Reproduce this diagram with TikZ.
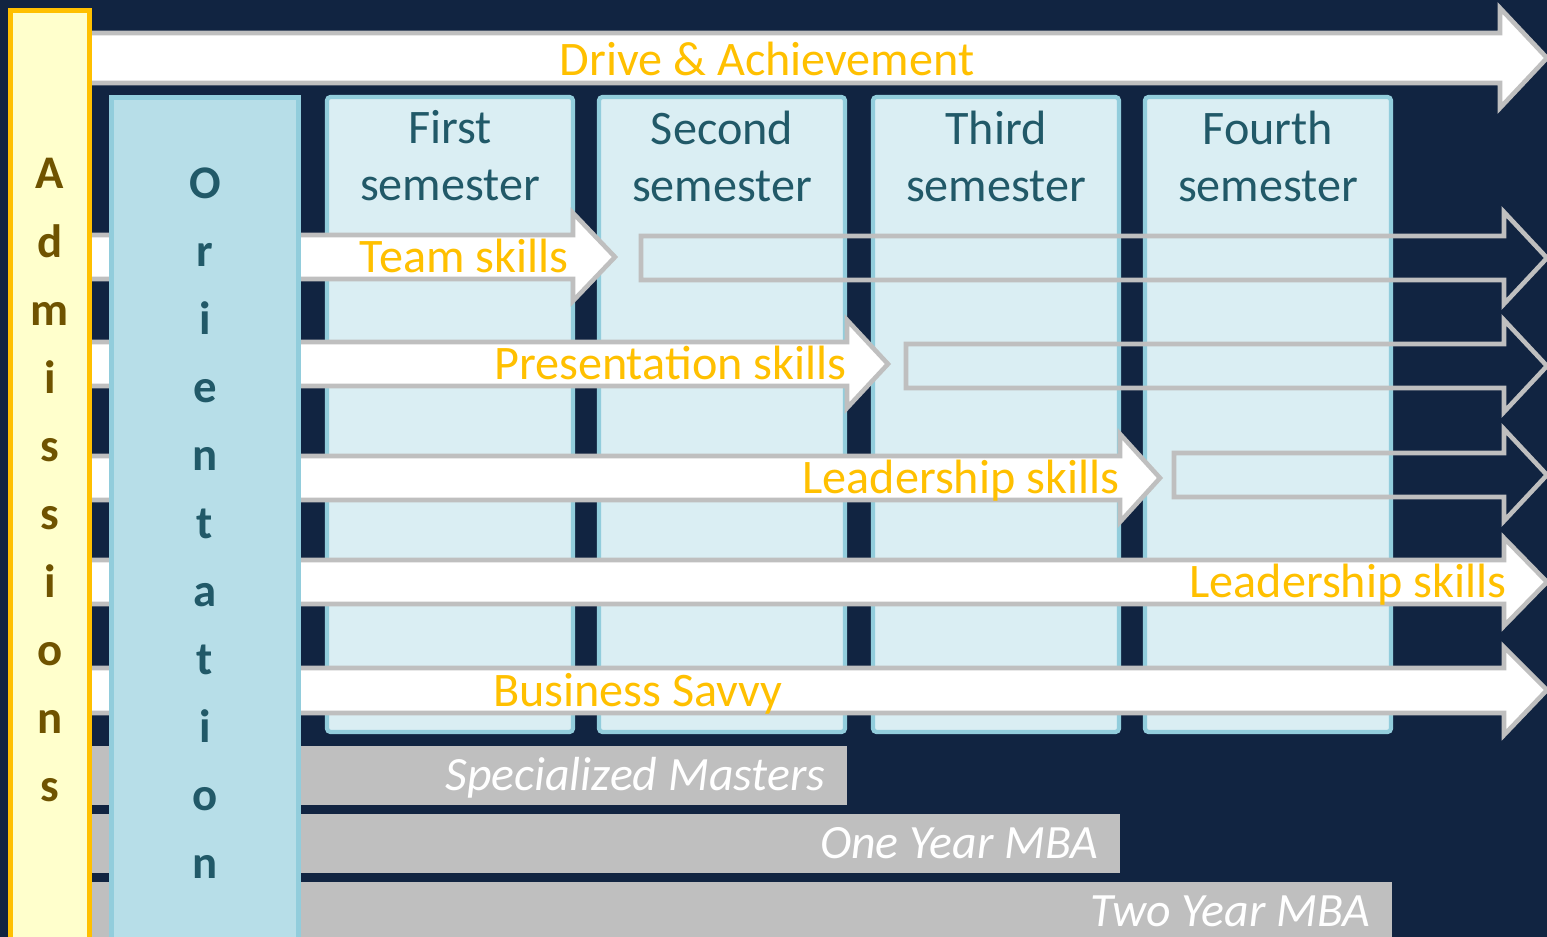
\documentclass[tikz,border=0pt]{standalone}
\usepackage{fontspec}
\setmainfont{Carlito}
\definecolor{navy}{HTML}{112441}
\definecolor{admfill}{HTML}{FFFFCC}
\definecolor{gold}{HTML}{FFC000}
\definecolor{admtext}{HTML}{6F5300}
\definecolor{orifill}{HTML}{B7DEE8}
\definecolor{oriline}{HTML}{92CDDC}
\definecolor{oritext}{HTML}{215968}
\definecolor{semfill}{HTML}{DAEEF3}
\definecolor{barline}{HTML}{BFBFBF}
\begin{document}
\begin{tikzpicture}[x=0.01cm,y=-0.01cm,font=\fontsize{13.7}{16.2}\selectfont,
  semester/.style={draw=oriline,fill=semfill,line width=1.2pt,rounded corners=1pt},
  arrowbar/.style={draw=barline,fill=white,line width=1.3pt},
  hollow/.style={draw=barline,line width=1.3pt},
  skill/.style={text=gold,inner sep=0pt},
  course/.style={text=white,inner sep=0pt,font=\fontsize{13.6}{16.2}\selectfont\itshape},
  letter/.style={inner sep=0pt,anchor=base,font=\fontsize{13.3}{16.2}\selectfont\bfseries}]
\fill [navy] (0,0) rectangle (1547,937);
\useasboundingbox (0,0) rectangle (1547,937);
% semesters
\foreach \x/\word [count=\i] in {325/First,597/Second,871/Third,1143/Fourth} {
  \draw [semester] (\x+2,97) rectangle (\x+248,732);
  \node [text=oritext,align=center,anchor=north,inner sep=0pt] (sem\i) at (\x+125,110) {\word\\semester};
}
% skill arrows
\draw [arrowbar] (60,33) -- (1500,33) -- (1500,8) -- (1547,58) -- (1500,108) -- (1500,83) -- (60,83) -- cycle;
\node [skill,anchor=base] (drive) at (767,76) {Drive \& Achievement};
\foreach \name/\y/\xe/\tip/\tx/\txt in {team/257/573/42/569/Team skills,pres/364/847/41/847/Presentation skills,lead/478/1120/40/1120/Leadership skills,leadb/582/1504/43/1507/Leadership skills} {
  \draw [arrowbar] (60,\y-22) -- (\xe,\y-22) -- (\xe,\y-44) -- (\xe+\tip,\y) -- (\xe,\y+44) -- (\xe,\y+22) -- (60,\y+22) -- cycle;
  \node [skill,anchor=base east] (\name) at (\tx,\y+16) {\txt};
}
\draw [arrowbar] (60,668) -- (1504,668) -- (1504,647) -- (1547,690) -- (1504,735) -- (1504,713) -- (60,713) -- cycle;
\node [skill,anchor=base] (biz) at (638,707) {Business Savvy};
\foreach \y/\xs in {258/641,366/906,475/1174}
  \draw [hollow] (\xs,\y-22) -- (1504,\y-22) -- (1504,\y-46) -- (1547,\y) -- (1504,\y+46) -- (1504,\y+22) -- (\xs,\y+22) -- cycle;
% programmes
\foreach \name/\ys/\xe/\txt in {spec/746/847/Specialized Masters,oneyr/814/1120/One Year MBA,twoyr/882/1392/Two Year MBA} {
  \fill [barline] (92,\ys) rectangle (\xe,\ys+59);
  \node [course,anchor=base east] (\name) at (\xe-21,\ys+45) {\txt};
}
% columns
\draw [draw=oriline,fill=orifill,line width=1.4pt] (111.5,97.5) rectangle (298.5,960);
\draw [draw=gold,fill=admfill,line width=1.4pt] (10.5,10.5) rectangle (89.5,960);
\foreach \ch [count=\i] in {A,d,m,i,s,s,i,o,n,s}
  \node [letter,text=admtext] (adm\i) at (50,{189+68.1*(\i-1)}) {\ch};
\foreach \ch [count=\i] in {O,r,i,e,n,t,a,t,i,o,n}
  \node [letter,text=oritext] (ori\i) at (205,{199+68*(\i-1)}) {\ch};
\end{tikzpicture}
\end{document}
